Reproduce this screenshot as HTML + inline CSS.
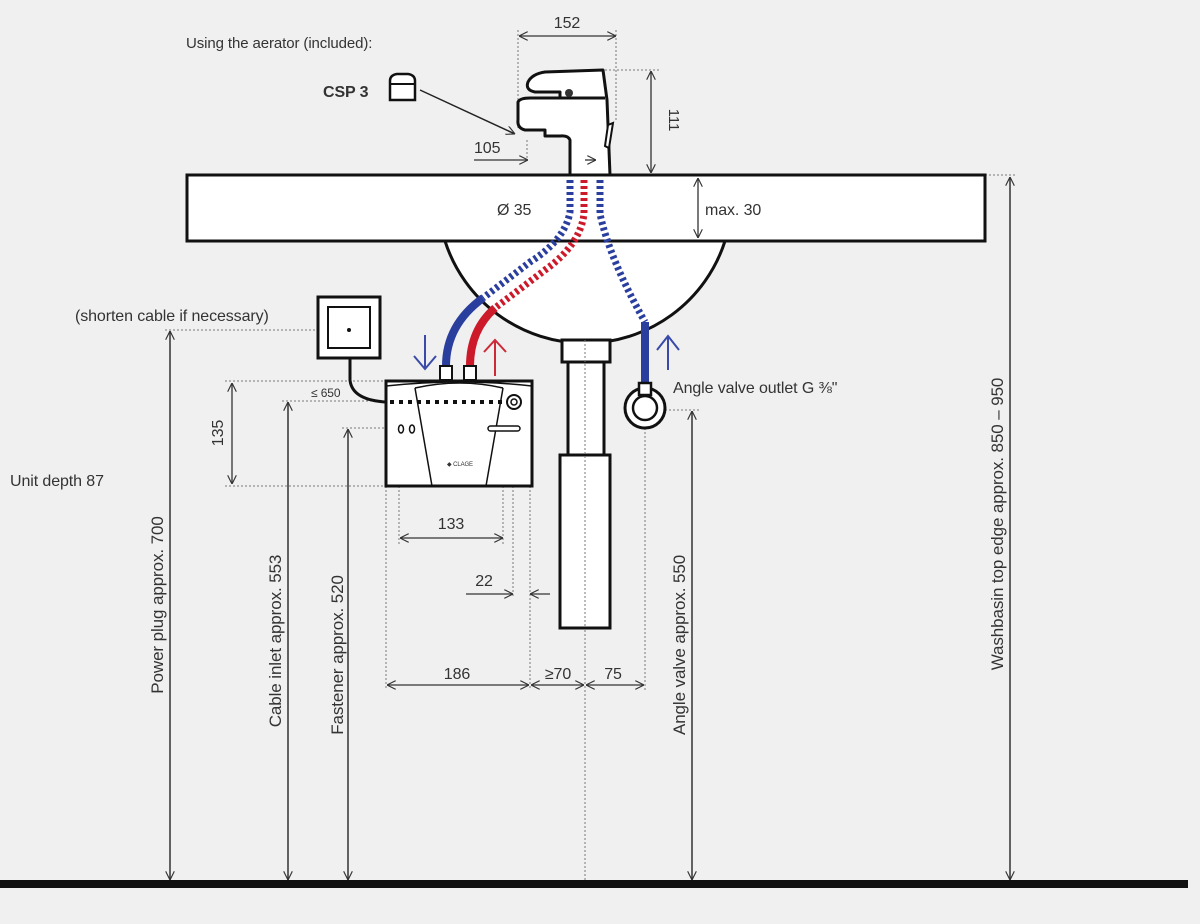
<!DOCTYPE html>
<html><head><meta charset="utf-8"><style>
html,body{margin:0;padding:0;background:#f0f0f0}
svg{display:block}
text{font-family:"Liberation Sans",sans-serif;fill:#333;letter-spacing:-0.1px}
</style></head><body>
<svg width="1200" height="924" viewBox="0 0 1200 924" xmlns="http://www.w3.org/2000/svg">
<defs>
<marker id="a" viewBox="0 0 10 10" refX="10" refY="5" markerWidth="9" markerHeight="9" orient="auto-start-reverse" markerUnits="userSpaceOnUse"><path d="M0,0 L10,5 L0,10" fill="none" stroke="#333" stroke-width="1.3"/></marker>
</defs>
<rect width="1200" height="924" fill="#f0f0f0"/>

<g stroke="#777" stroke-width="1" stroke-dasharray="2,2" fill="none">
<line x1="585" y1="150" x2="585" y2="880"/>
<line x1="518" y1="30" x2="518" y2="130"/>
<line x1="616" y1="30" x2="616" y2="120"/>
<line x1="605" y1="70" x2="660" y2="70"/>
<line x1="527" y1="140" x2="527" y2="158"/>
<line x1="165" y1="330" x2="350" y2="330"/>
<line x1="225" y1="381" x2="386" y2="381"/>
<line x1="225" y1="486" x2="386" y2="486"/>
<line x1="282" y1="401" x2="380" y2="401"/>
<line x1="342" y1="428" x2="395" y2="428"/>
<line x1="386" y1="486" x2="386" y2="690"/>
<line x1="399" y1="486" x2="399" y2="545"/>
<line x1="503" y1="486" x2="503" y2="545"/>
<line x1="513" y1="486" x2="513" y2="598"/>
<line x1="530" y1="486" x2="530" y2="690"/>
<line x1="645" y1="420" x2="645" y2="690"/>
<line x1="645" y1="410" x2="700" y2="410"/>
<line x1="985" y1="175" x2="1015" y2="175"/>
</g>

<rect x="187" y="175" width="798" height="66" fill="#fff" stroke="#111" stroke-width="3"/>
<path d="M445,241 A147,147 0 0 0 725,241 Z" fill="#fff" stroke="#111" stroke-width="3"/>
<rect x="562" y="340" width="48" height="22" fill="#fff" stroke="#111" stroke-width="3"/>
<rect x="568" y="362" width="36" height="93" fill="#fff" stroke="#111" stroke-width="3"/>
<rect x="560" y="455" width="50" height="173" fill="#fff" stroke="#111" stroke-width="3"/>
<line x1="585" y1="340" x2="585" y2="628" stroke="#777" stroke-dasharray="2,2"/>

<path d="M570,175 L570,140 Q568,135 560,136 L545,136 L545,130 L525,130 Q517,128 518,120 L518,102 Q520,98 530,98 L560,98 L560,92 L535,92 Q525,90 528,82 Q532,74 545,72 L603,70 L607,100 L610,175" fill="#fff" stroke="#111" stroke-width="3" stroke-linejoin="round"/>
<line x1="560" y1="98" x2="605" y2="98" stroke="#111" stroke-width="3"/>
<circle cx="569" cy="93" r="4" fill="#333"/>
<path d="M608,125 L613,123 L609,148 L605,146 Z" fill="#fff" stroke="#111" stroke-width="2"/>
<line x1="570" y1="175" x2="610" y2="175" stroke="#111" stroke-width="3"/>
<line x1="519" y1="36" x2="616" y2="36" stroke="#333" stroke-width="1.3" marker-start="url(#a)" marker-end="url(#a)"/>
<text x="567" y="28" font-size="16" text-anchor="middle">152</text>
<line x1="651" y1="71" x2="651" y2="173" stroke="#333" stroke-width="1.3" marker-start="url(#a)" marker-end="url(#a)"/>
<text transform="translate(669,120) rotate(90)" font-size="15" text-anchor="middle">111</text>
<line x1="474" y1="160" x2="528" y2="160" stroke="#333" stroke-width="1.3" marker-end="url(#a)"/>
<line x1="585" y1="160" x2="596" y2="160" stroke="#333" stroke-width="1.3" marker-end="url(#a)"/>
<text x="474" y="153" font-size="16">105</text>
<text x="186" y="48" font-size="15">Using the aerator (included):</text>
<text x="323" y="97" font-size="16" font-weight="bold" fill="#222">CSP 3</text>
<path d="M390,81 Q390,75 397,74 L408,74 Q415,75 415,81 L415,100 L390,100 Z" fill="#fff" stroke="#111" stroke-width="2.5"/>
<line x1="390" y1="84" x2="415" y2="84" stroke="#111" stroke-width="2"/>
<line x1="420" y1="90" x2="515" y2="134" stroke="#222" stroke-width="1.5" marker-end="url(#a)"/>

<text x="497" y="215" font-size="16">Ø 35</text>
<line x1="698" y1="178" x2="698" y2="238" stroke="#333" stroke-width="1.3" marker-start="url(#a)" marker-end="url(#a)"/>
<text x="705" y="215" font-size="16">max. 30</text>

<g fill="none" stroke-width="7" stroke-dasharray="3,3">
<path d="M570,180 L570,212 Q565,240 530,262 L483,298" stroke="#2a3e9e"/>
<path d="M584,180 L584,214 Q580,245 545,270 L495,308" stroke="#cc1a2a"/>
<path d="M600,180 L600,214 Q610,260 645,322" stroke="#2a3e9e"/>
</g>
<path d="M483,298 Q446,325 446,366" fill="none" stroke="#2a3e9e" stroke-width="8"/>
<path d="M495,308 Q470,330 470,366" fill="none" stroke="#cc1a2a" stroke-width="8"/>
<line x1="645" y1="322" x2="645" y2="385" stroke="#2a3e9e" stroke-width="8"/>

<g fill="none" stroke-width="2">
<path d="M425,335 L425,369 M414,356 L425,369 L436,356" stroke="#3a4aa8"/>
<path d="M495,340 L495,376 M484,352 L495,340 L506,352" stroke="#cc2a36"/>
<path d="M668,336 L668,370 M657,350 L668,336 L679,350" stroke="#3a4aa8"/>
</g>

<circle cx="645" cy="408" r="20" fill="#fff" stroke="#111" stroke-width="3"/>
<circle cx="645" cy="408" r="12" fill="#fff" stroke="#111" stroke-width="2.5"/>
<rect x="639" y="383" width="12" height="12" fill="#fff" stroke="#111" stroke-width="2.5"/>
<text x="673" y="393" font-size="16">Angle valve outlet G ⅜"</text>

<rect x="318" y="297" width="62" height="61" fill="#fff" stroke="#111" stroke-width="3"/>
<rect x="328" y="307" width="42" height="41" fill="#fff" stroke="#111" stroke-width="2"/>
<circle cx="349" cy="330" r="2" fill="#111"/>
<path d="M350,358 L350,380 Q352,400 386,402" fill="none" stroke="#111" stroke-width="3"/>
<text x="75" y="321" font-size="16">(shorten cable if necessary)</text>

<rect x="386" y="381" width="146" height="105" fill="#fff" stroke="#111" stroke-width="3"/>
<path d="M386,386 Q460,378 532,386" fill="none" stroke="#111" stroke-width="1.5"/>
<path d="M415,388 L432,486 M503,388 L486,486" fill="none" stroke="#111" stroke-width="1.5"/>
<path d="M415,388 Q460,378 503,388" fill="none" stroke="#111" stroke-width="1.5"/>
<line x1="390" y1="402" x2="502" y2="402" stroke="#111" stroke-width="4" stroke-dasharray="4,5"/>
<circle cx="514" cy="402" r="7" fill="#fff" stroke="#111" stroke-width="2"/>
<circle cx="514" cy="402" r="3" fill="#fff" stroke="#111" stroke-width="1.5"/>
<ellipse cx="401" cy="429" rx="2.5" ry="4" fill="none" stroke="#111" stroke-width="1.5"/>
<ellipse cx="412" cy="429" rx="2.5" ry="4" fill="none" stroke="#111" stroke-width="1.5"/>
<rect x="488" y="426" width="32" height="5" rx="2.5" fill="#fff" stroke="#111" stroke-width="1.5"/>
<text x="460" y="466" font-size="6" text-anchor="middle" fill="#555">◆ CLAGE</text>
<rect x="440" y="366" width="12" height="14" fill="#fff" stroke="#111" stroke-width="2"/>
<rect x="464" y="366" width="12" height="14" fill="#fff" stroke="#111" stroke-width="2"/>
<text x="311" y="397" font-size="12">≤ 650</text>

<line x1="232" y1="383" x2="232" y2="484" stroke="#333" stroke-width="1.3" marker-start="url(#a)" marker-end="url(#a)"/>
<text transform="translate(223,433) rotate(-90)" font-size="16" text-anchor="middle">135</text>
<text x="10" y="486" font-size="16">Unit depth 87</text>

<line x1="400" y1="538" x2="503" y2="538" stroke="#333" stroke-width="1.3" marker-start="url(#a)" marker-end="url(#a)"/>
<text x="451" y="529" font-size="16" text-anchor="middle">133</text>
<line x1="466" y1="594" x2="513" y2="594" stroke="#333" stroke-width="1.3" marker-end="url(#a)"/>
<line x1="550" y1="594" x2="530" y2="594" stroke="#333" stroke-width="1.3" marker-end="url(#a)"/>
<text x="484" y="586" font-size="16" text-anchor="middle">22</text>
<line x1="387" y1="685" x2="529" y2="685" stroke="#333" stroke-width="1.3" marker-start="url(#a)" marker-end="url(#a)"/>
<line x1="531" y1="685" x2="584" y2="685" stroke="#333" stroke-width="1.3" marker-start="url(#a)" marker-end="url(#a)"/>
<line x1="586" y1="685" x2="644" y2="685" stroke="#333" stroke-width="1.3" marker-start="url(#a)" marker-end="url(#a)"/>
<text x="457" y="679" font-size="16" text-anchor="middle">186</text>
<text x="558" y="679" font-size="16" text-anchor="middle">≥70</text>
<text x="613" y="679" font-size="16" text-anchor="middle">75</text>

<g stroke="#333" stroke-width="1.5" marker-start="url(#a)" marker-end="url(#a)">
<line x1="170" y1="331" x2="170" y2="880"/>
<line x1="288" y1="402" x2="288" y2="880"/>
<line x1="348" y1="429" x2="348" y2="880"/>
<line x1="692" y1="411" x2="692" y2="880"/>
<line x1="1010" y1="177" x2="1010" y2="880"/>
</g>
<text transform="translate(163,605) rotate(-90)" font-size="17" text-anchor="middle">Power plug approx. 700</text>
<text transform="translate(281,641) rotate(-90)" font-size="17" text-anchor="middle">Cable inlet approx. 553</text>
<text transform="translate(343,655) rotate(-90)" font-size="17" text-anchor="middle">Fastener approx. 520</text>
<text transform="translate(685,645) rotate(-90)" font-size="17" text-anchor="middle">Angle valve approx. 550</text>
<text transform="translate(1003,524) rotate(-90)" font-size="17" text-anchor="middle">Washbasin top edge approx. 850 – 950</text>

<rect x="0" y="880" width="1188" height="8" fill="#111"/>
</svg>
</body></html>
